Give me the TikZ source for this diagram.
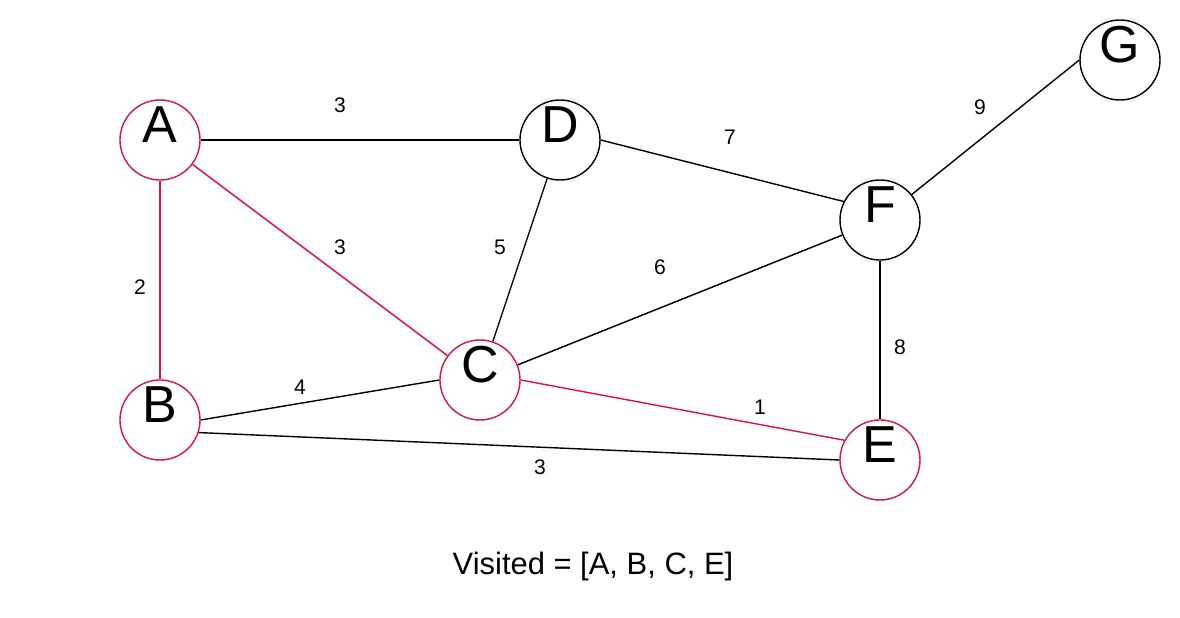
\documentclass[tikz,border=0pt]{standalone}
\usepackage{fontspec}
\setmainfont{Liberation Sans}
\definecolor{visit}{RGB}{220,20,60}
\begin{document}
\begin{tikzpicture}[x=0.025cm,y=-0.025cm,line width=1pt,
    vertex/.style={circle,draw,minimum size=2cm,inner sep=0pt,
        font=\fontsize{37}{37}\selectfont,text height=0.72em,text depth=0.36em},
    seen/.style={vertex,draw=visit},
    weight/.style={font=\fontsize{15}{15}\selectfont,inner sep=0pt}]
\useasboundingbox (0,0) rectangle (1180,618);
\node[seen] (A) at (160,140) {A};
\node[seen] (B) at (160,420) {B};
\node[seen] (C) at (480,380) {C};
\node[vertex] (D) at (560,140) {D};
\node[seen] (E) at (880,460) {E};
\node[vertex] (F) at (880,220) {F};
\node[vertex] (G) at (1120,60) {G};
% edges
\draw (A.east)--(D.west);
\draw (D.east)--(F.153);
\draw (F)--(G.west);
\draw (D)--(C);
\draw (C)--(F);
\draw (F.south)--(E.north);
\draw (B.east)--(C.west);
\draw (B.-18)--(E.west);
\draw[visit] (A.south)--(B.north);
\draw[visit] (A)--(C);
\draw[visit] (C.east)--(E.151);
% weights
\foreach \n/\x/\y/\w in {wAD/340/105/3,wDF/730/137/7,wFG/980/107/9,wAC/340/247/3,
    wDC/500/247/5,wCF/660/267/6,wAB/140/287/2,wFE/900/347/8,wBC/300/387/4,
    wCE/760/407/1,wBE/540/467/3}
{
    \node[weight] (\n) at (\x,\y) {\w};
}
\node[font=\fontsize{22}{22}\selectfont,inner sep=0pt] (visited) at (593,566) {Visited = [A, B, C, E]};
\end{tikzpicture}
\end{document}
